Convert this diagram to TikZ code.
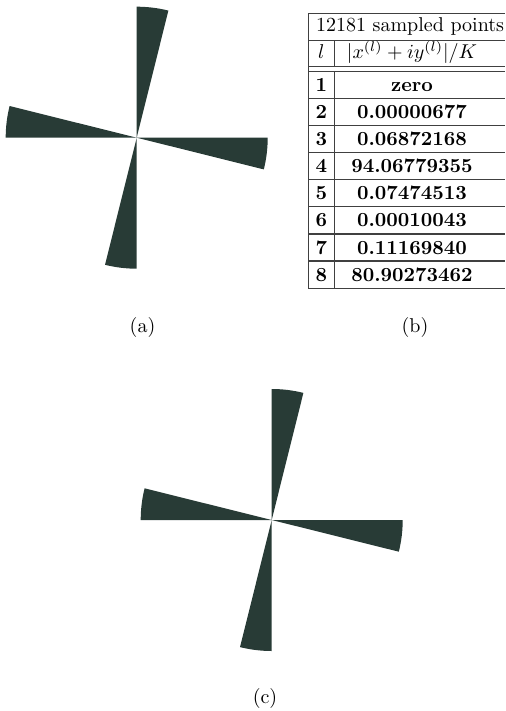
\documentclass[tikz,border=0pt]{standalone}
\usepackage{amsmath,amssymb}
\usepackage{tikz}
\usetikzlibrary{positioning}
\usepackage{xcolor}
\definecolor{bladegreen}{HTML}{283B36}

\begin{document}
\begin{tikzpicture}[x=0.5pt,y=-0.5pt,font=\normalsize,
blade/.style={fill=bladegreen,draw=none},
rule/.style={line width=0.6pt,draw=black!75},
cell/.style={inner sep=0pt,text height=6.6pt,text depth=0pt,font=\bfseries},
head/.style={inner sep=0pt,text height=7.5pt,text depth=2.5pt},
caption/.style={inner sep=0pt,text height=7.5pt,text depth=2.5pt}]
\useasboundingbox (0,0) rectangle (505,711);
% pinwheels
\coordinate (pa) at (136.7,137.7);
\coordinate (pc) at (271.7,520);
\foreach \a in {76,166,256,346}{
  \fill[blade] (pa) -- ++(-\a:131) arc[start angle=-\a,end angle=-\a-14,radius=131] -- cycle;
  \fill[blade] (pc) -- ++(-\a:131) arc[start angle=-\a,end angle=-\a-14,radius=131] -- cycle;
}
% table rules
\draw[rule] (308.3,13.3) -- (505,13.3);
\draw[rule] (308.3,40.7) -- (505,40.7);
\draw[rule] (308.3,66.3) -- (505,66.3);
\draw[rule] (308.3,71.3) -- (505,71.3);
\foreach \y in {98.4,125.5,152.6,179.7,206.8,233.9,261.0,288.1}
  \draw[rule] (308.3,\y) -- (505,\y);
\draw[rule] (308.3,13.3) -- (308.3,288.1);
\draw[rule] (334.3,40.7) -- (334.3,66.3);
\draw[rule] (334.3,71.3) -- (334.3,288.1);
% table text
\node[head] (t) at (410,27) {12181 sampled points};
\node[head] (hl) at (321.3,53.5) {$l$};
\node[head] (hx) at (412,53.5) {$|x^{(l)}+iy^{(l)}|/K$};
\node[cell] (l1) at (321.3,84.9) {1};   \node[cell] (v1) at (412,84.9) {zero};
\node[cell] (l2) at (321.3,112.0) {2};  \node[cell] (v2) at (412,112.0) {0.00000677};
\node[cell] (l3) at (321.3,139.1) {3};  \node[cell] (v3) at (412,139.1) {0.06872168};
\node[cell] (l4) at (321.3,166.2) {4};  \node[cell] (v4) at (412,166.2) {94.06779355};
\node[cell] (l5) at (321.3,193.3) {5};  \node[cell] (v5) at (412,193.3) {0.07474513};
\node[cell] (l6) at (321.3,220.4) {6};  \node[cell] (v6) at (412,220.4) {0.00010043};
\node[cell] (l7) at (321.3,247.5) {7};  \node[cell] (v7) at (412,247.5) {0.11169840};
\node[cell] (l8) at (321.3,274.6) {8};  \node[cell] (v8) at (412,274.6) {80.90273462};
% captions
\node[caption] (ca) at (142.5,327.5) {(a)};
\node[caption] (cb) at (415,327.5) {(b)};
\node[caption] (cc) at (265,698) {(c)};
\end{tikzpicture}
\end{document}
